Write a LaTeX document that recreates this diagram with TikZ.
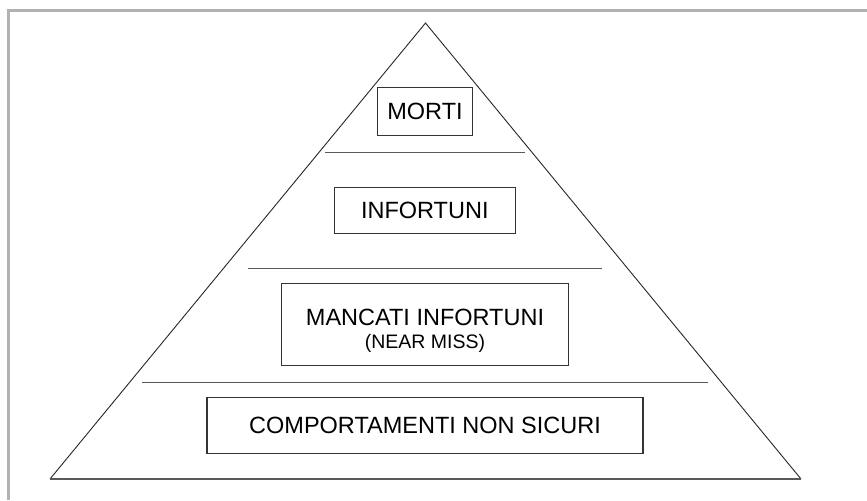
\documentclass[tikz,border=0pt]{standalone}
\usepackage{fontspec}
\setmainfont{Liberation Sans}
\usetikzlibrary{positioning}

\begin{document}
\begin{tikzpicture}[x=0.5pt, y=-0.5pt,
    levelbox/.style={draw=black!80, line width=0.55pt, inner sep=0pt, align=center,
      font=\fontsize{11.75}{14}\selectfont},
    levelline/.style={draw=black!65, line width=0.7pt}]
    \useasboundingbox (0,0) rectangle (867,500);
    % frame
    \draw[gray!60, line width=1.5pt] (8.5,500) -- (8.5,10.5) -- (867,10.5);

    % pyramid
    \coordinate (apex) at (425.5,23);
    \coordinate (baseL) at (50,479);
    \coordinate (baseR) at (801,479);
    \draw[black!85, line width=0.45pt] (baseL) -- (apex) -- (baseR);
    \draw[levelline] (baseL) -- (baseR);

    \draw[levelline] (325,152.3) -- (525,152.3);
    \draw[levelline] (248,268.7) -- (602,268.7);
    \draw[levelline] (142,382.3) -- (708,382.3);

    \node[levelbox, minimum width=47.7pt, minimum height=24pt] (morti) at (425,111.3) {MORTI};
    \node[levelbox, minimum width=90.5pt, minimum height=23pt] (infortuni) at (424.8,210.3) {INFORTUNI};
    \node[levelbox, minimum width=143.3pt, minimum height=41pt] (mancati) at (425,324.7)
      {\rule{0pt}{14pt}MANCATI INFORTUNI\\[-2.5pt]{\fontsize{9.75}{11}\selectfont (NEAR MISS)}};
    \node[levelbox, minimum width=218pt, minimum height=27.8pt] (comportamenti) at (425,425.5)
      {COMPORTAMENTI NON SICURI};
\end{tikzpicture}
\end{document}
